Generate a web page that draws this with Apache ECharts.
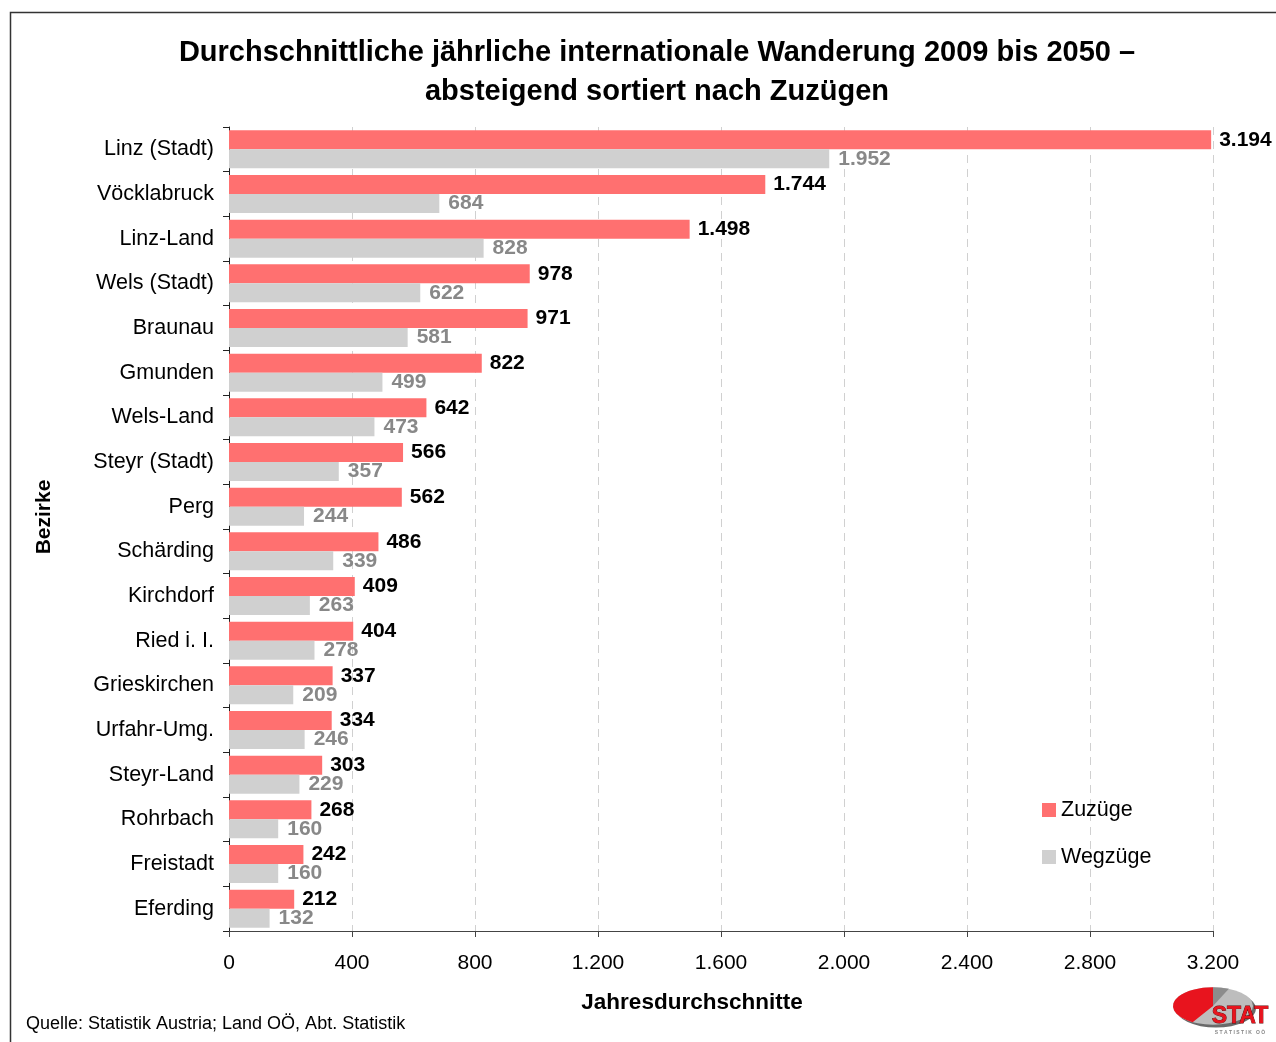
<!DOCTYPE html>
<html><head><meta charset="utf-8">
<script src="https://cdn.jsdelivr.net/npm/echarts@6/dist/echarts.min.js"></script>
<style>html,body{margin:0;padding:0;background:#fff}#c{width:1276px;height:1042px}</style>
</head><body><div id="c"></div>
<script>
const categories = ["Linz (Stadt)","Vöcklabruck","Linz-Land","Wels (Stadt)","Braunau","Gmunden","Wels-Land","Steyr (Stadt)","Perg","Schärding","Kirchdorf","Ried i. I.","Grieskirchen","Urfahr-Umg.","Steyr-Land","Rohrbach","Freistadt","Eferding"];
const zuzuege = [3194,1744,1498,978,971,822,642,566,562,486,409,404,337,334,303,268,242,212];
const wegzuege = [1952,684,828,622,581,499,473,357,244,339,263,278,209,246,229,160,160,132];
const xTicks = {min:0, max:3200, interval:400};

const FONT = '"Liberation Sans", Arial, sans-serif';
function fmt(v){return String(v).replace(/\B(?=(\d{3})+(?!\d))/g,'.');}

const chart = echarts.init(document.getElementById('c'));
chart.setOption({
  animation:false,
  backgroundColor:'#fff',
  textStyle:{fontFamily:FONT},
  title:{
    text:'Durchschnittliche jährliche internationale Wanderung 2009 bis 2050 –\nabsteigend sortiert nach Zuzügen',
    left:652, top:28, textAlign:'center',
    textStyle:{fontFamily:FONT,fontSize:29,fontWeight:'bold',color:'#000',lineHeight:39}
  },
  legend:{
    orient:'vertical', left:1037, top:794, itemGap:25, itemWidth:14, itemHeight:14,
    icon:'rect',
    textStyle:{fontFamily:FONT,fontSize:21.5,color:'#000'},
    data:['Zuzüge','Wegzüge']
  },
  grid:{left:229,right:63,top:127,bottom:111,containLabel:false},
  xAxis:{
    type:'value', min:xTicks.min, max:xTicks.max, interval:xTicks.interval,
    axisLine:{show:true,lineStyle:{color:'#444',width:1}},
    axisTick:{show:true,length:6,lineStyle:{color:'#444'}},
    axisLabel:{fontFamily:FONT,fontSize:21,color:'#000',margin:22,formatter:fmt},
    splitLine:{show:true,lineStyle:{color:'#d0d0d0',type:[8,6],width:1}}
  },
  yAxis:{
    type:'category', data:categories, inverse:true,
    axisLine:{show:true,lineStyle:{color:'#222',width:1}},
    axisTick:{show:true,length:6,lineStyle:{color:'#222'}},
    axisLabel:{fontFamily:FONT,fontSize:21.5,color:'#000',margin:15}
  },
  series:[
    {name:'Zuzüge',type:'bar',data:zuzuege,barGap:'0%',barCategoryGap:'15%',
     itemStyle:{color:'#ff7070'},
     label:{show:true,position:'right',distance:8,fontFamily:FONT,fontSize:21,fontWeight:'bold',color:'#000',
       formatter:p=>fmt(p.value)}},
    {name:'Wegzüge',type:'bar',data:wegzuege,
     itemStyle:{color:'#d0d0d0'},
     label:{show:true,position:'right',distance:9,fontFamily:FONT,fontSize:21,fontWeight:'bold',color:'#888',
       formatter:p=>fmt(p.value)}}
  ],
  graphic:[
    {type:'rect',shape:{x:10.5,y:12.5,width:1300,height:1100},style:{fill:'none',stroke:'#333',lineWidth:1.5},silent:true,z:-1},
    {type:'text',x:44,y:517,rotation:Math.PI/2,style:{text:'Bezirke',font:'bold 21px '+FONT,fill:'#000',textAlign:'center',textVerticalAlign:'middle'}},
    {type:'text',x:692,y:1003,style:{text:'Jahresdurchschnitte',font:'bold 22.5px '+FONT,fill:'#000',textAlign:'center',textVerticalAlign:'middle'}},
    {type:'text',x:26,y:1024,style:{text:'Quelle: Statistik Austria; Land OÖ, Abt. Statistik',font:'18px '+FONT,fill:'#000',textAlign:'left',textVerticalAlign:'middle'}},
    {type:'group',x:1213,y:1006,scaleY:0.47,children:[
      {type:'circle',shape:{cx:3,cy:6,r:40},style:{fill:'#6a6a6a'}},
      {type:'circle',shape:{cx:0,cy:0,r:40},style:{fill:'#bdbdbd'}},
      {type:'sector',shape:{cx:0,cy:0,r:40,r0:0,startAngle:Math.PI*0.67,endAngle:Math.PI*1.5},style:{fill:'#e8141e'}},
      {type:'sector',shape:{cx:0,cy:0,r:40,r0:0,startAngle:Math.PI*1.5,endAngle:Math.PI*1.63},style:{fill:'#8c8c8c'}}
    ]},
    {type:'text',x:1240,y:1017,style:{text:'STAT',font:'bold 23px '+FONT,fill:'#e8141e',stroke:'#5a0000',lineWidth:0.8,textAlign:'center',textVerticalAlign:'middle'}},
    {type:'text',x:1240,y:1033,style:{text:'S T A T I S T I K   O Ö',font:'bold 5px '+FONT,fill:'#888',textAlign:'center',textVerticalAlign:'middle'}}
  ]
});
</script></body></html>
